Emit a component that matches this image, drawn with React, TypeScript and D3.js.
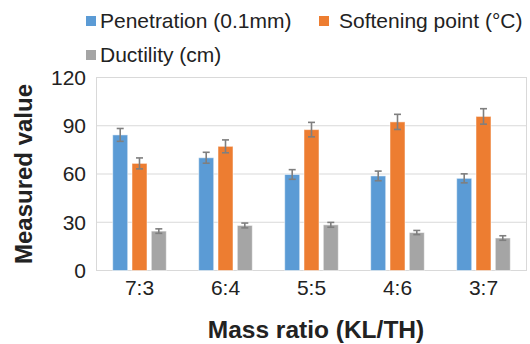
import React from 'react';
import { scaleBand, scaleLinear } from 'd3';

const categories = ['7:3', '6:4', '5:5', '4:6', '3:7'];
const seriesNames = ['Penetration (0.1mm)', 'Softening point (°C)', 'Ductility (cm)'];
const penetration = [84.3, 70.1, 59.7, 58.8, 57.3];
const softening = [66.6, 77.2, 87.6, 92.4, 95.8];
const ductility = [24.5, 28.0, 28.4, 23.6, 20.2];
const penetrationErr = [4.0, 3.4, 3.0, 3.0, 2.8];
const softeningErr = [3.4, 4.0, 4.5, 4.7, 4.8];
const ductilityErr = [1.4, 1.5, 1.5, 1.3, 1.4];
const yTicks = [0, 30, 60, 90, 120];

const colors = ['#5B9BD5', '#ED7D31', '#A5A5A5'];
// no serif face is installed, so fall back to Liberation Sans
const font = '"Liberation Sans", Arial, sans-serif';

export default function App() {
  const W = 530, H = 344;
  const left = 96.5, right = 526.5, top = 77.5, bottom = 270.5;

  const x = scaleBand().domain(categories).range([left, right]);
  const y = scaleLinear().domain([0, 120]).range([bottom, top]);

  const values = [penetration, softening, ductility];
  const errs = [penetrationErr, softeningErr, ductilityErr];
  const barW = 15;
  const step = 19.3;

  return (
    <svg width={W} height={H} style={{ position: 'absolute', left: 0, top: 0 }}>
      <rect width={W} height={H} fill="#fff" />
      {/* gridlines */}
      {yTicks.map(t => (
        <line key={t} x1={left} x2={right} y1={y(t)} y2={y(t)} stroke="#d9d9d9" strokeWidth={1} />
      ))}
      <rect x={left} y={top} width={right - left} height={bottom - top} fill="none" stroke="#d9d9d9" strokeWidth={1} />

      {/* bars */}
      {values.map((vals, s) =>
        vals.map((v, i) => {
          const cx = x(categories[i])! + x.bandwidth() / 2 + (s - 1) * step;
          return (
            <rect key={`${s}-${i}`} x={cx - barW / 2} y={y(v)} width={barW} height={y(0) - y(v)}
              fill={colors[s]} stroke="#ffffff" strokeOpacity={0.5} strokeWidth={1} />
          );
        })
      )}

      {/* error bars */}
      {values.map((vals, s) =>
        vals.map((v, i) => {
          const cx = x(categories[i])! + x.bandwidth() / 2 + (s - 1) * step;
          const e = errs[s][i];
          return (
            <g key={`e${s}-${i}`} stroke="#7f7f7f" strokeWidth={1.6}>
              <line x1={cx} x2={cx} y1={y(v + e)} y2={y(v - e)} />
              <line x1={cx - 3.5} x2={cx + 3.5} y1={y(v + e)} y2={y(v + e)} />
              <line x1={cx - 3.5} x2={cx + 3.5} y1={y(v - e)} y2={y(v - e)} />
            </g>
          );
        })
      )}

      {/* y tick labels */}
      {yTicks.map(t => (
        <text key={t} x={86} y={y(t)} dy="0.35em" textAnchor="end" fontFamily={font} fontSize={21} fill="#222">{t}</text>
      ))}

      {/* x tick labels */}
      {categories.map(c => (
        <text key={c} x={x(c)! + x.bandwidth() / 2} y={295} textAnchor="middle" fontFamily={font} fontSize={21} fill="#222">{c}</text>
      ))}

      {/* axis titles */}
      <text x={316} y={338} textAnchor="middle" fontFamily={font} fontSize={24.5} fontWeight="bold" fill="#222">Mass ratio (KL/TH)</text>
      <text transform={`translate(32,${(top + bottom) / 2}) rotate(-90)`} textAnchor="middle" fontFamily={font} fontSize={24} fontWeight="bold" fill="#222">Measured value</text>

      {/* legend */}
      <g fontFamily={font} fontSize={21} fill="#222">
        <rect x={86} y={16} width={10} height={10} fill={colors[0]} />
        <text x={100} y={28}>{seriesNames[0]}</text>
        <rect x={319} y={16} width={10} height={10} fill={colors[1]} />
        <text x={339} y={28}>{seriesNames[1]}</text>
        <rect x={86} y={50} width={10} height={10} fill={colors[2]} />
        <text x={100} y={62}>{seriesNames[2]}</text>
      </g>
    </svg>
  );
}
